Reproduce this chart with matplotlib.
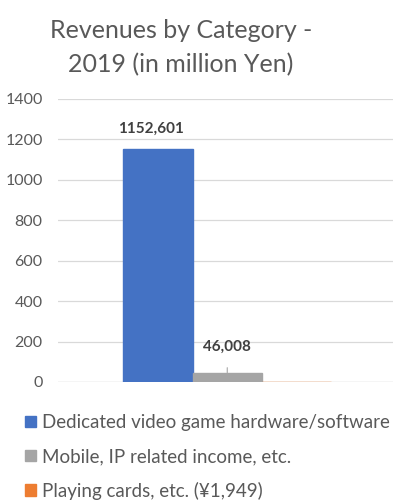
import matplotlib
matplotlib.use('Agg')
import matplotlib.pyplot as plt

plt.rcParams['font.family'] = ['Lato', 'DejaVu Sans']

categories = ['Dedicated video game hardware/software',
              'Mobile, IP related income, etc.',
              'Playing cards, etc. (¥1,949)']
revenues = [1152.601, 46.008, 1.949]
colors = ['#4472C4', '#A5A5A5', '#ED7D31']
yticks = [0, 200, 400, 600, 800, 1000, 1200, 1400]
TXT = '#595959'

fig = plt.figure(figsize=(3.96, 5.03), dpi=100)
ax = fig.add_axes([0.1465, 0.2406, 0.846, 0.5626])

bars = []
for i, (cat, val, col) in enumerate(zip(categories, revenues, colors)):
    bars.append(ax.bar(i, val, width=1.0, color=col, edgecolor=col,
                       linewidth=1.0, label=cat, zorder=3))

ax.set_xlim(-1.44, 3.39)
ax.set_ylim(0, 1400)
ax.set_yticks(yticks)
ax.set_yticklabels([str(t) for t in yticks], color=TXT, fontsize=11.5)
ax.set_xticks([])
ax.tick_params(axis='y', length=0, pad=11)
ax.grid(axis='y', color='#D9D9D9', linewidth=0.9, zorder=0)
for s in ax.spines.values():
    s.set_visible(False)
ax.axhline(0, color='#D9D9D9', linewidth=0.9, zorder=2)

# value labels, in the chart's own comma style
def fmt(v):
    return f'{v:.3f}'.replace('.', ',')

ax.text(-0.1, revenues[0] + 100, fmt(revenues[0]), ha='center', va='center',
        fontsize=11, fontweight='bold', color='#404040')
ax.annotate(fmt(revenues[1]), xy=(1, revenues[1]), xytext=(1, revenues[1] + 128),
            ha='center', va='center', fontsize=11, fontweight='bold', color='#404040',
            arrowprops=dict(arrowstyle='-', color='#A6A6A6', lw=0.8, shrinkA=8, shrinkB=0))

fig.text(0.457, 0.94, 'Revenues by Category -', ha='center', va='center',
         fontsize=18, color=TXT)
fig.text(0.457, 0.871, '2019 (in million Yen)', ha='center', va='center',
         fontsize=18, color=TXT)

fig.legend(handles=[b for b in bars], labels=categories, loc='upper left',
           bbox_to_anchor=(0.064, 0.176), frameon=False, fontsize=13.5,
           handlelength=0.55, handleheight=0.55, handletextpad=0.35,
           labelspacing=0.88, labelcolor=TXT, borderaxespad=0, borderpad=0)

fig.savefig('out.png', dpi=100)
